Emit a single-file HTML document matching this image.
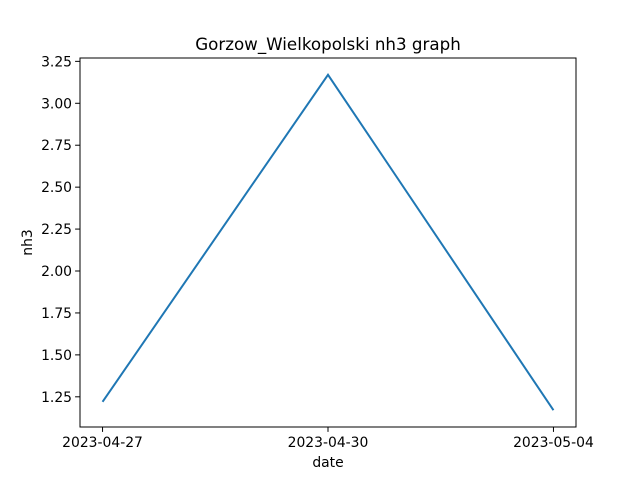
<!DOCTYPE html>
<html><head><meta charset="utf-8"><style>
html,body{margin:0;padding:0;background:#fff;}
svg{display:block;font-family:"DejaVu Sans","Liberation Sans",sans-serif;}
</style></head><body>
<svg id="chart" width="640" height="480" viewBox="0 0 640 480">
<rect width="640" height="480" fill="#fff"/>
<text x="328" y="50" font-size="16.7" text-anchor="middle" fill="#000">Gorzow_Wielkopolski nh3 graph</text>
<g id="ticks"></g>
<path id="line" fill="none" stroke="#1f77b4" stroke-width="2"/>
<rect x="80" y="58" width="496" height="369" fill="none" stroke="#000" stroke-width="1"/>
<text x="328" y="467" font-size="13.9" text-anchor="middle">date</text>
<text transform="translate(32,242.5) rotate(-90)" font-size="13.9" text-anchor="middle">nh3</text>
</svg>
<script>
const categories = ["2023-04-27","2023-04-30","2023-05-04"];
const values = [1.22, 3.17, 1.17];
const yTicks = [1.25,1.50,1.75,2.00,2.25,2.50,2.75,3.00,3.25];
const L=80,R=576,T=58,B=427;
const vmin=Math.min(...values),vmax=Math.max(...values),pad=(vmax-vmin)*0.05;
const y0=vmin-pad,y1=vmax+pad;
const n=categories.length;
const xs=i=>L+(i+(n-1)*0.05)/((n-1)*1.1)*(R-L);
const ys=v=>B-(v-y0)/(y1-y0)*(B-T);
const NS="http://www.w3.org/2000/svg";
const g=document.getElementById('ticks');
function mk(t,a){const e=document.createElementNS(NS,t);for(const k in a)e.setAttribute(k,a[k]);return e;}
yTicks.forEach(v=>{
  const y=ys(v);
  const l=mk('line',{x1:L-4.9,x2:L,y1:y,y2:y,stroke:'#000','stroke-width':1});
  
  
  g.appendChild(l);
  const t=mk('text',{x:L-8,y:y+5,'font-size':13.9,'text-anchor':'end'});
  
  
  t.textContent=v.toFixed(2);g.appendChild(t);
});
categories.forEach((c,i)=>{
  const x=xs(i);
  const l=mk('line',{x1:x,x2:x,y1:B,y2:B+4.9,stroke:'#000','stroke-width':1});
  
  
  g.appendChild(l);
  const t=mk('text',{x:x,y:B+20,'font-size':13.9,'text-anchor':'middle'});
  
  
  t.textContent=c;g.appendChild(t);
});
document.getElementById('line').setAttribute('d',values.map((v,i)=>(i?'L':'M')+xs(i)+','+ys(v)).join(' '));
</script>
</body></html>
